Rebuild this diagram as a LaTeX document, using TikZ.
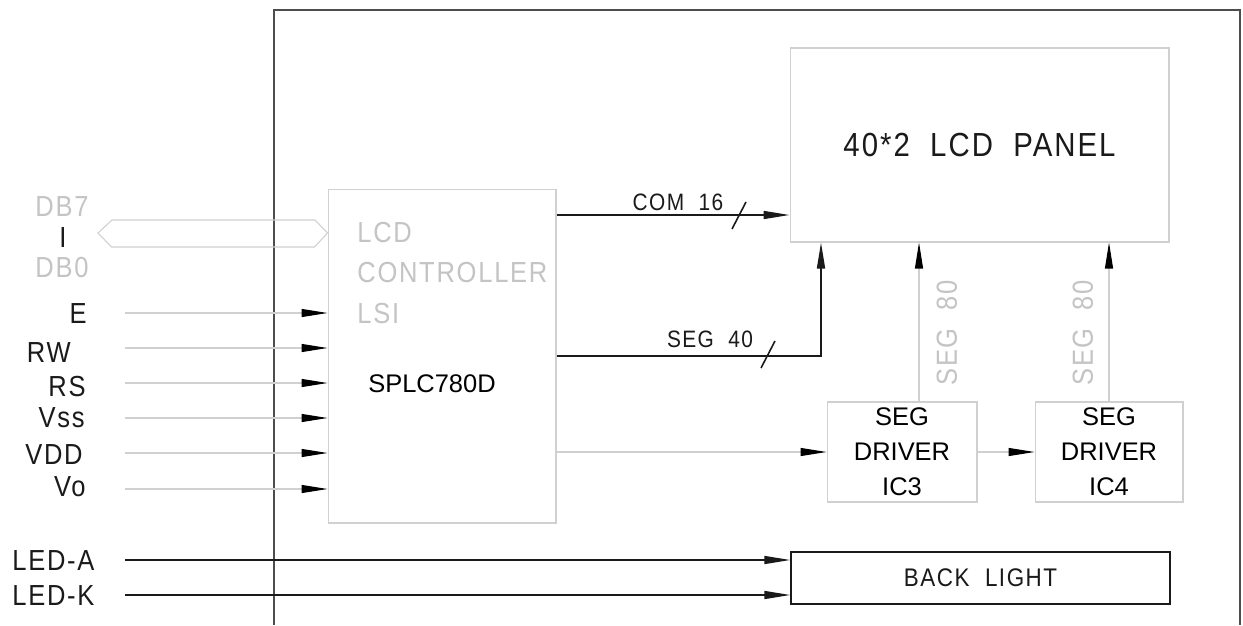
\documentclass[tikz,border=0pt]{standalone}
\usepackage{fontspec}
\setmainfont{Liberation Sans}
\newfontfamily\cadfont[FakeStretch=0.88,LetterSpace=6,WordSpace=2]{Liberation Sans}
\usepackage{xcolor}
\definecolor{lcdFrame}{HTML}{4D4D4D}
\definecolor{lcdFaint}{HTML}{D0D0D0}
\definecolor{lcdFaintText}{HTML}{C4C4C4}
\definecolor{lcdInk}{HTML}{1A1A1A}
\usetikzlibrary{arrows.meta}

\begin{document}
\begin{tikzpicture}[x=0.02cm, y=-0.02cm,
  faintbox/.style={draw=lcdFaint, line width=0.6pt, inner sep=0pt},
  inkbox/.style={draw=lcdInk, line width=0.9pt, inner sep=0pt},
  faintwire/.style={draw=lcdFaint, line width=0.6pt, -{Triangle[length=5.2mm, width=1.6mm, color=black]}},
  inkwire/.style={draw=lcdInk, line width=0.9pt, -{Triangle[length=5.2mm, width=1.6mm]}},
  pinlabel/.style={font=\cadfont\fontsize{16.5}{18}\selectfont, text=lcdInk, inner sep=0pt},
  faintlabel/.style={font=\cadfont\fontsize{16.5}{22.8}\selectfont, text=lcdFaintText, inner sep=0pt},
  chiplabel/.style={font=\fontsize{14.5}{19.9}\selectfont, text=black, inner sep=0pt, align=center}]
  \fill[white] (0,0) rectangle (1243,625);
  \useasboundingbox (0,0) rectangle (1243,625);
  % module outline
  \draw[lcdFrame, line width=1.1pt] (274,625) -- (274,10) -- (1240,10) -- (1240,625);

  % blocks
  \node[faintbox, minimum width=4.56cm, minimum height=6.68cm] (ctrl) at (442,356) {};
  \node[faintlabel, align=left, anchor=west] (ctrlname) at (357,273) {LCD\\CONTROLLER\\LSI};
  \node[chiplabel] (chip) at (432,384) {SPLC780D};
  \node[faintbox, minimum width=7.58cm, minimum height=3.88cm, text=lcdInk,
        font=\cadfont\fontsize{19}{20}\selectfont] (panel) at (979.5,145) {40*2 LCD PANEL};
  \node[faintbox, chiplabel, minimum width=3.0cm, minimum height=2.0cm] (ic3) at (902,452) {SEG\\DRIVER\\IC3};
  \node[faintbox, chiplabel, minimum width=2.96cm, minimum height=2.0cm] (ic4) at (1109,452) {SEG\\DRIVER\\IC4};
  \node[inkbox, minimum width=7.58cm, minimum height=1.04cm, text=lcdInk,
        font=\cadfont\fontsize{14.5}{16}\selectfont] (light) at (980.5,578) {BACK LIGHT};

  % data bus
  \node[faintlabel] (db7) at (62,207) {DB7};
  \node[pinlabel] (dbsep) at (63,238) {I};
  \node[faintlabel] (db0) at (62,268) {DB0};
  \coordinate (busL) at (98,233);
  \draw[lcdFaint, line width=0.6pt] (busL) -- ++(14,-13) -- ++(203,0) -- (ctrl.west |- busL)
    -- ++(-13,14) -- ++(-203,0) -- cycle;

  % control and power pins
  \foreach \pin/\y/\lx/\ly in {E/313/87/314, RW/348/71/353, RS/383/86/387,
                               Vss/418/85/418, VDD/453/83/455, Vo/489/86/487} {
    \node[pinlabel, anchor=east] (pin-\pin) at (\lx,\ly) {\pin};
    \coordinate (src-\pin) at (125,\y);
    \draw[faintwire] (src-\pin) -- (ctrl.west |- src-\pin);
  }

  % controller outputs
  \coordinate (comy) at (0,215);
  \draw[inkwire] (ctrl.east |- comy) -- (panel.west |- comy);
  \node[pinlabel, font=\cadfont\fontsize{13.5}{15}\selectfont] (comlabel) at (678,202) {COM 16};
  \draw[lcdInk, line width=0.9pt] (732,229) -- (746,202);
  \coordinate (s40) at (821,356);
  \draw[inkwire] (ctrl.east |- s40) -- (s40) -- (s40 |- panel.south);
  \node[pinlabel, font=\cadfont\fontsize{13.5}{15}\selectfont] (seglabel) at (710,339) {SEG 40};
  \draw[lcdInk, line width=0.9pt] (761,368) -- (775,341);
  \draw[faintwire] (ctrl.east |- ic3.west) -- (ic3.west);
  \draw[faintwire] (ic3.east) -- (ic4.west);

  % segment drivers to panel
  \draw[faintwire] ([xshift=0.34cm]ic3.north) -- ([xshift=0.34cm]ic3.north |- panel.south);
  \draw[faintwire] (ic4.north) -- (ic4.north |- panel.south);
  \node[faintlabel, rotate=90] (seg80a) at (947,333) {SEG 80};
  \node[faintlabel, rotate=90] (seg80b) at (1083,333) {SEG 80};

  % backlight
  \node[pinlabel, anchor=west] (leda) at (12,561) {LED-A};
  \node[pinlabel, anchor=west] (ledk) at (12,596) {LED-K};
  \coordinate (srcA) at (125,560);
  \coordinate (srcK) at (125,595);
  \draw[inkwire] (srcA) -- (light.west |- srcA);
  \draw[inkwire] (srcK) -- (light.west |- srcK);
\end{tikzpicture}
\end{document}
